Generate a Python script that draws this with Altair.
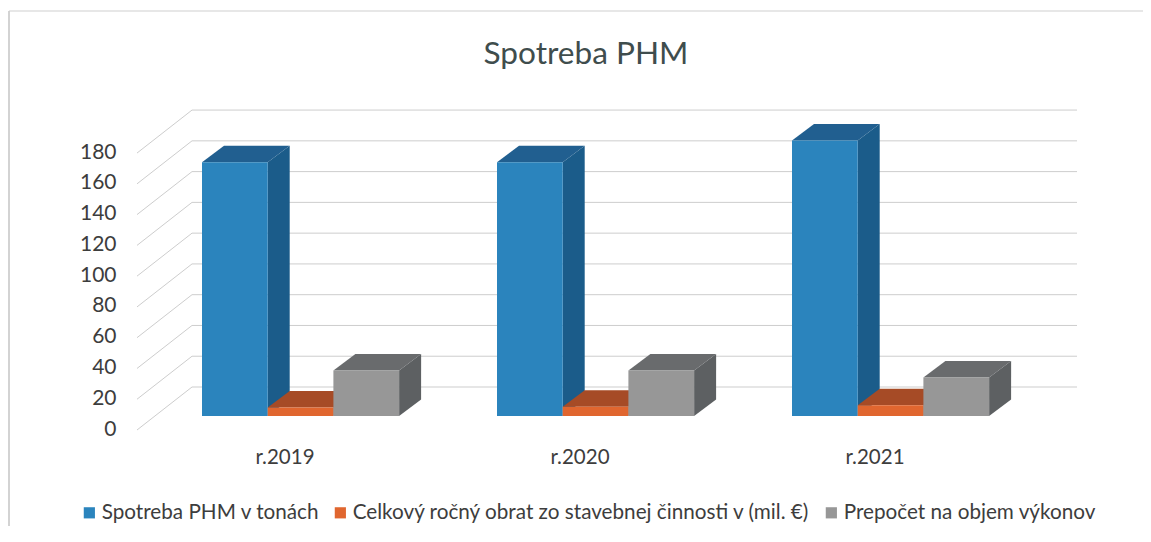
import altair as alt
import pandas as pd

categories = ["r.2019", "r.2020", "r.2021"]
series_names = ["Spotreba PHM v tonách", "Celkový ročný obrat zo stavebnej činnosti v (mil. €)", "Prepočet na objem výkonov"]
spotreba = [165, 165, 179]
obrat = [5.5, 6, 7]
prepocet = [29.5, 29.5, 25]
ticks = [0, 20, 40, 60, 80, 100, 120, 140, 160, 180]
chart_title = "Spotreba PHM"

series_values = [spotreba, obrat, prepocet]
front_colors = ["#2b84bd", "#e0662f", "#979797"]
top_colors = ["#215f90", "#a64b26", "#696b6d"]
side_colors = ["#1b5c8a", "#8f4020", "#5d6062"]

# Projection geometry of the fake 3-D box. One x unit is one category slot.
W, H = 940, 320
SLOT_PX = 295.0
UNIT_PX = 320 / 208.0
WALL_DX = 55 / SLOT_PX
WALL_DY = 43 / UNIT_PX
BAR_START = 65 / SLOT_PX
BAR_W = 65.7 / SLOT_PX
BAR_LIFT = 14 / UNIT_PX
DEPTH_DX = 22 / SLOT_PX
DEPTH_DY = 16.5 / UNIT_PX

grid_rows = []
for v in ticks:
    grid_rows += [
        {"v": v, "x": 0, "y": v},
        {"v": v, "x": WALL_DX, "y": v + WALL_DY},
        {"v": v, "x": 3 + WALL_DX, "y": v + WALL_DY},
    ]

x_scale = alt.Scale(domain=[0, W / SLOT_PX], nice=False, zero=False)
y_scale = alt.Scale(domain=[0, 208], nice=False, zero=False)

color_domain = list(series_names) + [s + " top" for s in series_names] + [s + " side" for s in series_names]
color_range = front_colors + top_colors + side_colors
color_scale = alt.Scale(domain=color_domain, range=color_range)

label_expr = "[" + ",".join(f"'{c}'" for c in categories) + "][floor(datum.value)]"
TXT = "#3d3d3d"

x_enc = alt.X("x:Q", scale=x_scale, axis=alt.Axis(values=[0.5, 1.5, 2.5], labelExpr=label_expr, title=None, domain=False,
              ticks=False, grid=False, labelPadding=17, labelFontSize=20.5, labelColor=TXT, labelFont="Lato"))
y_enc = alt.Y("y:Q", scale=y_scale, axis=alt.Axis(values=ticks, title=None, domain=False, ticks=False, grid=False,
              labelPadding=21, labelFontSize=21, labelColor=TXT, labelFont="Lato", labelOffset=-1))

legend = alt.Legend(
    values=series_names, title=None, orient="none", legendX=-58, legendY=392,
    direction="horizontal", symbolType="square", symbolSize=125, symbolStrokeWidth=0,
    labelFontSize=20.7, labelFont="Lato", labelColor=TXT, labelLimit=600, labelOffset=2, columnPadding=10)

frame = alt.Chart(pd.DataFrame({"k": [0]}))
layers = [
    frame.mark_rule(color="#c4c4c4", strokeWidth=1.5).encode(x=alt.value(-128), y=alt.value(-99), y2=alt.value(422)),
    frame.mark_rule(color="#cfcfcf", strokeWidth=1).encode(x=alt.value(-128), x2=alt.value(1006), y=alt.value(-99)),
    frame.mark_text(font="Lato", fontSize=31.6, color="#3f4d4d", align="center", baseline="alphabetic").encode(
        x=alt.value(449), y=alt.value(-46), text=alt.datum(chart_title)),
    alt.Chart(pd.DataFrame(grid_rows)).mark_line(color="#cdcdcd", strokeWidth=1).encode(x=x_enc, y=y_enc, detail="v:N"),
]

for si, name in enumerate(series_names):
    faces, fronts = [], []
    for c in range(len(categories)):
        val = series_values[si][c]
        x0 = c + BAR_START + si * BAR_W
        x1 = x0 + BAR_W
        b = BAR_LIFT
        t = BAR_LIFT + val
        f_top = f"{c}t"
        f_side = f"{c}s"
        faces += [
            {"f": f_top, "s": name + " top", "x": x0, "y": t, "y2": t},
            {"f": f_top, "s": name + " top", "x": x0 + DEPTH_DX, "y": t, "y2": t + DEPTH_DY},
            {"f": f_top, "s": name + " top", "x": x1, "y": t, "y2": t + DEPTH_DY},
            {"f": f_top, "s": name + " top", "x": x1 + DEPTH_DX, "y": t + DEPTH_DY, "y2": t + DEPTH_DY},
            {"f": f_side, "s": name + " side", "x": x1, "y": b, "y2": t},
            {"f": f_side, "s": name + " side", "x": x1 + DEPTH_DX, "y": b + DEPTH_DY, "y2": t + DEPTH_DY},
        ]
        fronts.append({"s": name, "x": x0, "x2": x1, "y": b, "y2": t})
    layers.append(
        alt.Chart(pd.DataFrame(faces)).mark_area(interpolate="linear").encode(
            x=x_enc, y=y_enc, y2="y2:Q", detail="f:N",
            color=alt.Color("s:N", scale=color_scale, legend=legend),
        )
    )
    layers.append(
        alt.Chart(pd.DataFrame(fronts)).mark_rect().encode(
            x=x_enc, x2="x2:Q", y=y_enc, y2="y2:Q",
            color=alt.Color("s:N", scale=color_scale, legend=legend),
        )
    )

chart = alt.layer(*layers).properties(
    width=W, height=H,
    padding={"left": 129, "top": 102, "right": 66, "bottom": 96},
    autosize=alt.AutoSizeParams(type="none"),
    background="white",
).configure_view(strokeWidth=0, stroke="transparent")

chart.save("out.html", embed_options={"renderer": "svg", "actions": False})
